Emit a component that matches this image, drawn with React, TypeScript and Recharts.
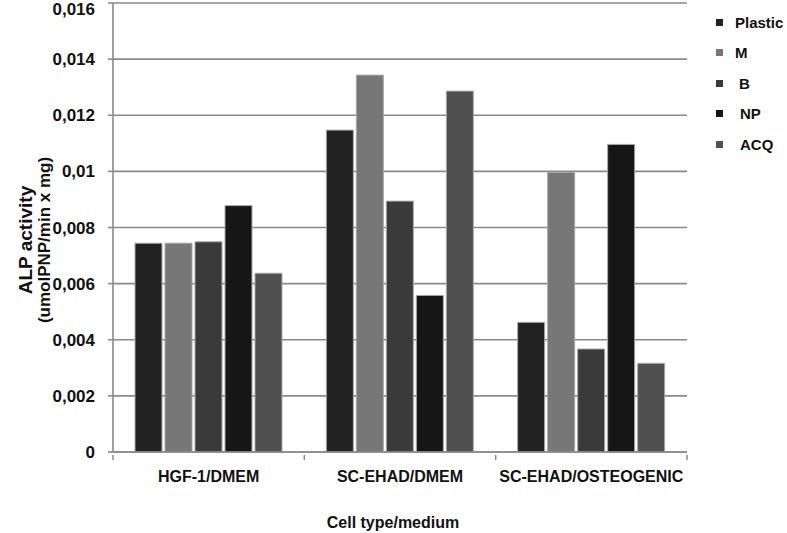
import React from 'react';
import { BarChart, Bar, XAxis, YAxis, CartesianGrid, Legend, Label } from 'recharts';

const categories = ['HGF-1/DMEM', 'SC-EHAD/DMEM', 'SC-EHAD/OSTEOGENIC'];
const plastic = [0.00744, 0.01147, 0.00462];
const mValues = [0.00744, 0.01343, 0.00997];
const bValues = [0.00749, 0.00894, 0.00367];
const npValues = [0.00878, 0.00558, 0.01096];
const acqValues = [0.00637, 0.01286, 0.00316];
const yTicks = [0, 0.002, 0.004, 0.006, 0.008, 0.01, 0.012, 0.014, 0.016];
const yTickLabels = ['0', '0,002', '0,004', '0,006', '0,008', '0,01', '0,012', '0,014', '0,016'];

const seriesNames = ['Plastic', 'M', 'B', 'NP', 'ACQ'];
const seriesKeys = ['plastic', 'm', 'b', 'np', 'acq'];
const seriesColors = ['#222222', '#777777', '#3a3a3a', '#161616', '#505050'];
const legendIndent = [0, 0, 4, 5, 5];

const data = categories.map((name, i) => ({
  name,
  plastic: plastic[i],
  m: mValues[i],
  b: bValues[i],
  np: npValues[i],
  acq: acqValues[i],
}));

const FONT = '"Liberation Sans", Arial, sans-serif';

const XTick = (props: any) => {
  const { x, y, payload, index } = props;
  const off = payload && payload.offset ? payload.offset : 0;
  return (
    <g>
      {off ? <line x1={x - off} x2={x - off} y1={y - 5} y2={y} stroke="#888" strokeWidth={1.5} /> : null}
      {off && index === categories.length - 1 ? (
        <line x1={x + off} x2={x + off} y1={y - 5} y2={y} stroke="#888" strokeWidth={1.5} />
      ) : null}
      <text x={x} y={y + 10} dy="0.75em" textAnchor="middle" fontFamily={FONT} fontWeight="bold" fontSize={16} fill="#111">
        {payload.value}
      </text>
    </g>
  );
};

const YTick = (props: any) => {
  const { x, y, payload } = props;
  const idx = yTicks.indexOf(payload.value);
  const label = idx >= 0 ? yTickLabels[idx] : String(payload.value);
  const ty = Math.max(y, 9);
  return (
    <text x={x} y={ty} dy="0.36em" textAnchor="end" fontFamily={FONT} fontWeight="bold" fontSize={17} fill="#111">
      {label}
    </text>
  );
};

const YTitle = () => {
  const cy = 240;
  return (
    <g>
      <text
        x={25}
        y={cy}
        transform={`rotate(-90, 25, ${cy})`}
        textAnchor="middle"
        dominantBaseline="central"
        fontFamily={FONT}
        fontWeight="bold"
        fontSize={19}
        fill="#111"
      >
        ALP activity
      </text>
      <text
        x={44}
        y={cy}
        transform={`rotate(-90, 44, ${cy})`}
        textAnchor="middle"
        dominantBaseline="central"
        fontFamily={FONT}
        fontWeight="bold"
        fontSize={17}
        fill="#111"
      >
        (umolPNP/min x mg)
      </text>
    </g>
  );
};

const LegendContent = () => (
  <div style={{ fontFamily: FONT, fontWeight: 'bold', fontSize: 15, color: '#111' }}>
    {seriesNames.map((n, i) => (
      <div key={n} style={{ display: 'flex', alignItems: 'center', height: 30.5 }}>
        <span style={{ display: 'inline-block', width: 7, height: 7, background: seriesColors[i], marginRight: 12 + legendIndent[i] }} />
        <span>{n}</span>
      </div>
    ))}
  </div>
);

export default function App() {
  return (
    <div style={{ position: 'absolute', left: 0, top: 0, width: 787, height: 533, background: '#fff' }}>
      <BarChart
        width={787}
        height={533}
        data={data}
        margin={{ top: 3, right: 30, bottom: 0, left: 0 }}
        barCategoryGap="11.5%"
        barGap={3}
      >
        <CartesianGrid vertical={false} stroke="#8a8a8a" strokeWidth={1.6} />
        <XAxis
          dataKey="name"
          height={81}
          axisLine={{ stroke: '#8a8a8a', strokeWidth: 1.6 }}
          tickLine={false}
          tick={<XTick />}
          interval={0}
        >
          <Label
            value="Cell type/medium"
            position="insideBottom"
            offset={5}
            dx={-7}
            style={{ fontFamily: FONT, fontWeight: 'bold', fontSize: 16, fill: '#111' }}
          />
        </XAxis>
        <YAxis
          width={113}
          domain={[0, 0.016]}
          ticks={yTicks}
          interval={0}
          axisLine={{ stroke: '#8a8a8a', strokeWidth: 1.6 }}
          tickLine={{ stroke: '#8a8a8a', strokeWidth: 1.6 }}
          tickSize={5}
          tickMargin={13}
          tick={<YTick />}
        >
          <Label content={<YTitle />} />
        </YAxis>
        <Legend
          layout="vertical"
          align="right"
          verticalAlign="top"
          content={<LegendContent />}
          wrapperStyle={{ position: 'absolute', left: 716, top: 7, width: 70 }}
        />
        {seriesKeys.map((k, i) => (
          <Bar
            key={k}
            dataKey={k}
            name={seriesNames[i]}
            fill={seriesColors[i]}
            stroke="#a8a8a8"
            strokeWidth={1}
            isAnimationActive={false}
          />
        ))}
      </BarChart>
    </div>
  );
}
